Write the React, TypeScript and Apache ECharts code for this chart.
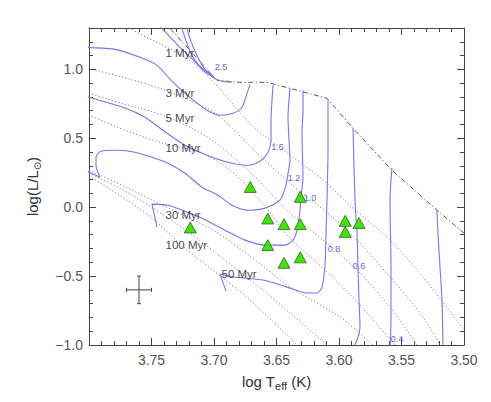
import React, { useEffect, useRef } from 'react';
import * as echarts from 'echarts';

// ---- evolutionary tracks (log Teff, log L/Lsun) ----
const track25a = [[3.7472, 1.355], [3.7416, 1.297], [3.7272, 1.159], [3.7136, 1.043], [3.7008, 0.942], [3.6936, 0.913], [3.6856, 0.906]];
const track25b = [[3.7272, 1.355], [3.7256, 1.297], [3.7216, 1.188], [3.7168, 1.087], [3.7088, 0.993], [3.6992, 0.935]];
const track25c = [[3.7224, 1.355], [3.7216, 1.297], [3.7184, 1.203], [3.7136, 1.101], [3.7072, 1.0], [3.7008, 0.955]];
const track20 = [[3.81, 1.166], [3.8, 1.159], [3.7792, 1.145], [3.7592, 1.087], [3.7456, 1.029], [3.7328, 0.906], [3.7192, 0.797], [3.7056, 0.703], [3.6952, 0.667], [3.6848, 0.681], [3.6776, 0.725], [3.6736, 0.826], [3.6712, 0.891]];
const track15 = [[3.81, 0.823], [3.8, 0.797], [3.7728, 0.725], [3.7552, 0.652], [3.7376, 0.536], [3.7232, 0.449], [3.7112, 0.399], [3.6992, 0.355], [3.6856, 0.319], [3.6728, 0.304], [3.6632, 0.333], [3.6568, 0.399], [3.6544, 0.486], [3.6544, 0.63], [3.6536, 0.775], [3.6528, 0.884]];
const track12 = [[3.806, 0.28], [3.8, 0.254], [3.7912, 0.217], [3.7944, 0.304], [3.7944, 0.362], [3.7904, 0.406], [3.7768, 0.413], [3.7632, 0.399], [3.7496, 0.362], [3.7368, 0.319], [3.7232, 0.246], [3.7096, 0.145], [3.6968, 0.087], [3.6856, 0.014], [3.6728, -0.022], [3.6592, -0.007], [3.6472, 0.051], [3.6424, 0.159], [3.6408, 0.246], [3.6392, 0.341], [3.64, 0.486], [3.6408, 0.652], [3.6392, 0.862]];
const track10 = [[3.7456, -0.145], [3.7496, 0.022], [3.7368, 0.014], [3.7232, -0.029], [3.7096, -0.08], [3.6912, -0.167], [3.6752, -0.239], [3.6592, -0.275], [3.6432, -0.275], [3.6368, -0.239], [3.6336, -0.167], [3.6312, -0.022], [3.6304, 0.072], [3.6288, 0.217], [3.6296, 0.536], [3.6288, 0.703], [3.6288, 0.848]];
const track08 = [[3.6904, -0.609], [3.6952, -0.486], [3.6848, -0.507], [3.6608, -0.529], [3.6416, -0.58], [3.6256, -0.623], [3.6176, -0.623], [3.6136, -0.58], [3.6112, -0.42], [3.6104, -0.188], [3.6096, 0.051], [3.6088, 0.413], [3.6088, 0.783]];
const track06 = [[3.5888, 0.572], [3.5872, 0.051], [3.5856, -0.188], [3.5848, -0.435], [3.584, -0.674], [3.5832, -0.87], [3.5856, -0.964], [3.5896, -1.036]];
const track04 = [[3.5576, 0.283], [3.5592, 0.051], [3.5584, -0.435], [3.5584, -0.797], [3.5592, -1.036]];
const track03 = [[3.5216, -0.022], [3.5208, -0.188], [3.5192, -0.435], [3.5176, -0.674], [3.5168, -1.036]];

const trackLabels = [
  { text: '2.5', x: 3.6944, y: 1.014 },
  { text: '1.5', x: 3.6492, y: 0.435 },
  { text: '1.2', x: 3.636, y: 0.21 },
  { text: '1.0', x: 3.6232, y: 0.065 },
  { text: '0.8', x: 3.604, y: -0.304 },
  { text: '0.6', x: 3.584, y: -0.428 },
  { text: '0.4', x: 3.5536, y: -0.957 },
];

// ---- isochrones ----
const iso1 = [[3.7736, 1.355], [3.7672, 1.297], [3.7408, 1.174], [3.7192, 1.065], [3.7016, 0.92], [3.6792, 0.688], [3.6672, 0.572], [3.6392, 0.377], [3.6128, 0.196], [3.5888, -0.007], [3.5592, -0.239], [3.5328, -0.507], [3.5, -0.891]];
const iso3 = [[3.8, 1.007], [3.7672, 0.928], [3.7432, 0.862], [3.7192, 0.775], [3.6976, 0.674], [3.6712, 0.442], [3.6392, 0.174], [3.6072, -0.058], [3.5856, -0.239], [3.5592, -0.507], [3.5328, -0.797], [3.5192, -1.0]];
const iso5 = [[3.8, 0.826], [3.7712, 0.746], [3.7456, 0.681], [3.7192, 0.58], [3.6992, 0.471], [3.6712, 0.254], [3.6392, -0.043], [3.6128, -0.239], [3.5856, -0.457], [3.5592, -0.725], [3.5376, -1.0]];
const iso10 = [[3.8, 0.667], [3.7712, 0.558], [3.7432, 0.471], [3.7096, 0.391], [3.6872, 0.268], [3.6632, 0.051], [3.6392, -0.225], [3.6128, -0.442], [3.5856, -0.688], [3.5552, -1.0]];
const iso30 = [[3.8, 0.268], [3.7768, 0.174], [3.7496, 0.051], [3.7232, -0.065], [3.6992, -0.174], [3.6712, -0.355], [3.6392, -0.58], [3.5992, -0.797], [3.5728, -1.0]];
const iso50 = [[3.8, 0.246], [3.7768, 0.145], [3.7496, 0.0], [3.7192, -0.188], [3.6912, -0.384], [3.6608, -0.601], [3.6392, -0.768], [3.6096, -1.0]];
const iso100 = [[3.8, 0.225], [3.7768, 0.094], [3.7496, -0.08], [3.7232, -0.297], [3.6968, -0.486], [3.6712, -0.674], [3.6336, -1.0]];

const isoLabels = [
  { text: '1 Myr', x: 3.7392, y: 1.116 },
  { text: '3 Myr', x: 3.7392, y: 0.826 },
  { text: '5 Myr', x: 3.7392, y: 0.645 },
  { text: '10 Myr', x: 3.7392, y: 0.428 },
  { text: '30 Myr', x: 3.7392, y: -0.058 },
  { text: '100 Myr', x: 3.7392, y: -0.275 },
  { text: '50 Myr', x: 3.6944, y: -0.486 },
];

// ---- birthline ----
const birthline = [[3.7408, 1.355], [3.7352, 1.297], [3.7192, 1.138], [3.6976, 0.92], [3.6792, 0.906], [3.6576, 0.906], [3.6392, 0.862], [3.6096, 0.79], [3.5888, 0.572], [3.5576, 0.268], [3.5216, -0.022], [3.5, -0.188]];

// ---- stars ----
const starsTeff = [3.671, 3.719, 3.631, 3.657, 3.644, 3.631, 3.595, 3.584, 3.595, 3.657, 3.644, 3.631];
const starsLum = [0.147, -0.147, 0.075, -0.082, -0.123, -0.123, -0.099, -0.114, -0.179, -0.275, -0.404, -0.364];

// ---- typical error bar ----
const errCenter = [3.76, -0.6];
const errTeff = 0.01;
const errLum = 0.1;

const FONT = '"Liberation Sans", Arial, Helvetica, sans-serif';
const TRACK_COLOR = '#7676ee';
const AXIS_COLOR = '#444';

export default function App() {
  const ref = useRef<HTMLDivElement>(null);
  useEffect(() => {
    if (!ref.current) return;
    const chart = echarts.init(ref.current, undefined, { renderer: 'svg' });

    const tickX = (pos: string, labels: boolean) => ({
      type: 'value', position: pos, min: 3.5, max: 3.8, interval: 0.05, inverse: true,
      axisLine: { show: true, onZero: false, lineStyle: { color: AXIS_COLOR, width: 1 } },
      axisTick: { show: true, inside: true, length: 7, lineStyle: { color: AXIS_COLOR } },
      minorTick: { show: true, splitNumber: 5, length: 4, lineStyle: { color: AXIS_COLOR } },
      splitLine: { show: false }, minorSplitLine: { show: false },
      axisLabel: labels ? {
        show: true, margin: 8, color: '#555', fontSize: 14, fontFamily: FONT,
        formatter: (v: number) => (v > 3.79 ? '' : v.toFixed(2)),
      } : { show: false },
    });
    const tickY = (pos: string, major: boolean, labels: boolean) => ({
      type: 'value', position: pos, min: -1, max: 1.3, interval: major ? 0.5 : 0.1,
      axisLine: { show: major, onZero: false, lineStyle: { color: AXIS_COLOR, width: 1 } },
      axisTick: { show: true, inside: true, length: major ? 7 : 4, lineStyle: { color: AXIS_COLOR } },
      splitLine: { show: false },
      axisLabel: labels ? {
        show: true, margin: 6, color: '#555', fontSize: 14, fontFamily: FONT,
        formatter: (v: number) => (Math.abs(v * 2 - Math.round(v * 2)) > 1e-6 ? '' : v.toFixed(1).replace('-', '\u2212')),
      } : { show: false },
    });

    const xAxis: any[] = [
      {
        ...tickX('bottom', true),
        name: '{n|log T}{sub|eff}{n| (K)}', nameLocation: 'middle', nameGap: 26,
        nameTextStyle: {
          color: '#333', fontFamily: FONT,
          rich: {
            n: { fontSize: 15, lineHeight: 20, color: '#333', fontFamily: FONT },
            sub: { fontSize: 11, lineHeight: 10, verticalAlign: 'bottom', color: '#333', fontFamily: FONT },
          },
        },
      },
      tickX('top', false),
    ];
    const yAxis: any[] = [
      {
        ...tickY('left', true, true),
        name: '{n|log(L/L}{sub|\u2299}{n|)}', nameLocation: 'middle', nameGap: 47, nameRotate: 90,
        nameTextStyle: {
          color: '#333', fontFamily: FONT,
          rich: {
            n: { fontSize: 15, lineHeight: 20, color: '#333', fontFamily: FONT },
            sub: { fontSize: 10, lineHeight: 10, verticalAlign: 'bottom', color: '#333', fontFamily: '"DejaVu Sans", sans-serif' },
          },
        },
      },
      tickY('left', false, false),
      tickY('right', true, false),
      tickY('right', false, false),
    ];

    const line = (data: number[][], style: any, smooth: number | boolean, z: number) => ({
      type: 'line', data, symbol: 'none', showSymbol: false, smooth, silent: true, z,
      xAxisIndex: 0, yAxisIndex: 0, lineStyle: style, clip: true,
    });

    const isoStyle = { color: '#707070', width: 0.9, type: [1.2, 2.2] };
    const trackStyle = { color: TRACK_COLOR, width: 1.1 };

    const series: any[] = [
      ...[iso1, iso3, iso5, iso10, iso30, iso50, iso100].map((d) => line(d, isoStyle, 0.3, 1)),
      line(birthline, { color: '#555', width: 1, type: [5, 2.5, 1.2, 2.5] }, false, 2),
      ...[track25a, track25b, track25c, track20, track15, track12, track10, track08, track06, track04, track03]
        .map((d) => line(d, trackStyle, 0.25, 3)),
      {
        type: 'scatter', silent: true, z: 4, symbolSize: 1, itemStyle: { color: 'rgba(0,0,0,0)' },
        data: isoLabels.map((l) => ({ name: l.text, value: [l.x, l.y] })),
        label: { show: true, position: 'right', distance: 0, formatter: '{b}', color: '#111', fontSize: 11.5, fontFamily: FONT },
      },
      {
        type: 'scatter', silent: true, z: 4, symbolSize: 1, itemStyle: { color: 'rgba(0,0,0,0)' },
        data: trackLabels.map((l) => ({ name: l.text, value: [l.x, l.y] })),
        label: { show: true, position: 'inside', formatter: '{b}', color: '#3535e6', fontSize: 9, fontFamily: FONT },
      },
      {
        type: 'custom', silent: true, z: 5,
        data: [[errCenter[0], errCenter[1], errTeff, errLum]],
        renderItem: (_p: any, api: any) => {
          const x = api.value(0), y = api.value(1), dx = api.value(2), dy = api.value(3);
          const l = api.coord([x + dx, y]);
          const r = api.coord([x - dx, y]);
          const t = api.coord([x, y + dy]);
          const b = api.coord([x, y - dy]);
          const st = { stroke: '#444', lineWidth: 1 };
          const c = 2;
          const seg = (x1: number, y1: number, x2: number, y2: number) => ({ type: 'line', shape: { x1, y1, x2, y2 }, style: st });
          return {
            type: 'group',
            children: [
              seg(l[0], l[1], r[0], r[1]),
              seg(t[0], t[1], b[0], b[1]),
              seg(l[0], l[1] - c, l[0], l[1] + c),
              seg(r[0], r[1] - c, r[0], r[1] + c),
              seg(t[0] - c, t[1], t[0] + c, t[1]),
              seg(b[0] - c, b[1], b[0] + c, b[1]),
            ],
          };
        },
      },
      {
        type: 'scatter', silent: true, z: 6, symbol: 'triangle', symbolSize: [12, 11],
        data: starsTeff.map((t, i) => [t, starsLum[i]]),
        itemStyle: { color: '#44e010', borderColor: '#2f6a1a', borderWidth: 0.8, opacity: 1 },
      },
    ];

    chart.setOption({
      animation: false,
      backgroundColor: '#fff',
      textStyle: { fontFamily: FONT },
      grid: { left: 89, right: 27, top: 28, bottom: 57, containLabel: false, outerBoundsMode: 'none' },
      xAxis,
      yAxis,
      series,
    } as any);

    return () => chart.dispose();
  }, []);

  return (
    <div style={{ position: 'absolute', left: 0, top: 0, width: 491, height: 402, background: '#fff' }}>
      <div ref={ref} style={{ width: 491, height: 402 }} />
    </div>
  );
}
